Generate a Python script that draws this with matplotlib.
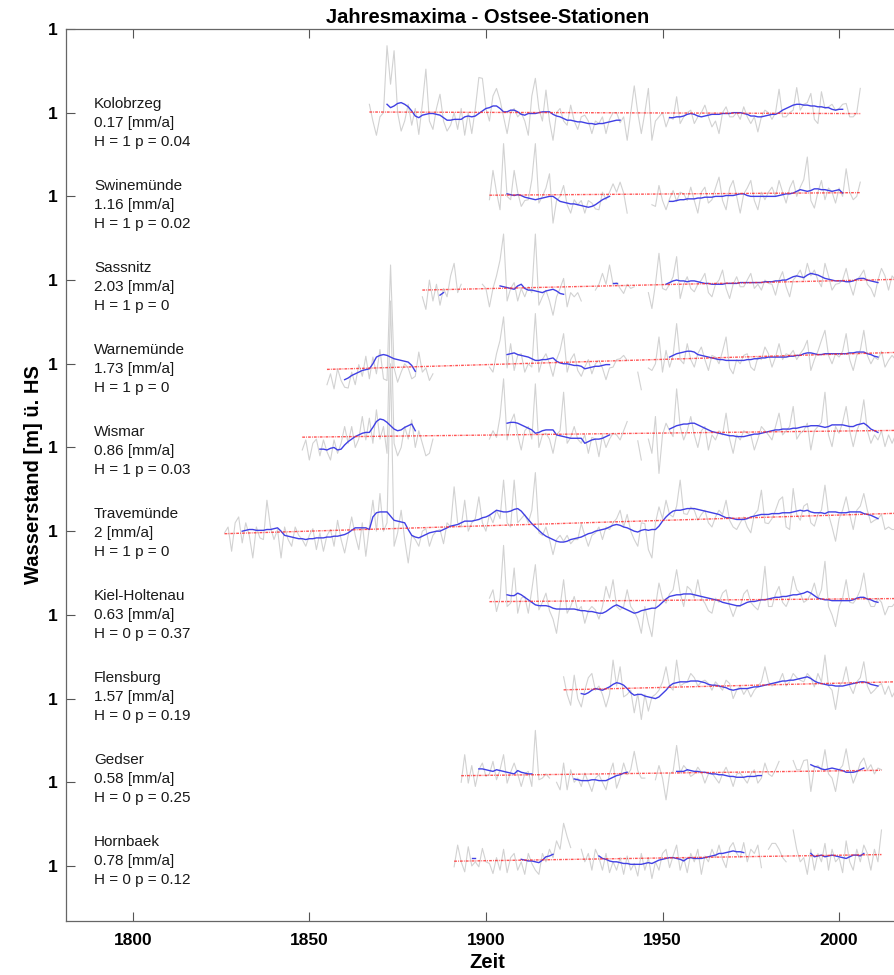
import numpy as np
import matplotlib.pyplot as plt

plt.rcParams['font.family'] = ['Liberation Sans', 'DejaVu Sans']

nan = np.nan

# Jahresmaxima je Station in cm relativ zur Stationslinie (ein Wert pro Jahr ab *_start)
# *_smooth: geglaettete Kurve als Abschnitte (Startjahr, Werte)

kolobrzeg_start = 1867
kolobrzeg = [10, -10, -27, -5, 0, 80, 34, 74, 0, -22,
             -10, 10, -15, 5, -26, 10, 52, -10, -20, 5,
             22, -10, -22, -15, 0, -20, 5, -27, 0, -25,
             5, 42, 41, 5, -10, 20, 29, 15, -5, -25,
             0, 5, -5, 0, -10, -27, 20, 41, 5, -10,
             27, -10, -33, 0, 5, -10, -15, 9, -10, -20,
             -5, -3, -10, -25, -10, -13, -5, -25, -8, 0,
             0, -12, -5, -33, 0, 32, 0, -25, 0, 29,
             -33, -10, -5, 0, -17, -5, -8, 19, -13, -5,
             0, 3, -13, -5, 0, 9, -5, -17, -10, -25,
             0, 7, -5, -5, 0, -8, 7, -5, -13, -5,
             -23, -5, 3, 0, -8, 0, 28, -5, -5, 0,
             3, 30, 3, 10, 12, 23, -8, -13, 25, 5,
             7, 10, 3, 5, 10, 11, -5, -5, 0, 29]
kolobrzeg_smooth = [
    (1872, [10, 6, 8, 11, 12, 10, 7, 2, -4, -6,
            -3, -2, -1, -1, -2, -3, -6, -9, -9, -8,
            -8, -8, -5, -4, -5, -4, -1, 2, 5, 6,
            8, 8, 5, 1, 1, 3, 3, 1, -2, -3,
            -1, -1, -1, 0, 1, 1, 1, -2, -4, -5,
            -7, -9, -9, -10, -11, -11, -12, -13, -13, -14,
            -13, -13, -12, -11, -10, -9, -9]),
    (1952, [-6, -6, -5, -5, -4, -2, -1, -2, -4, -5,
            -4, -3, -2, -2, -2, -1, -1, -1, 0, 0,
            0, -1, -2, -4, -4, -5, -5, -4, -3, -2,
            -2, 0, 3, 5, 7, 9, 10, 10, 9, 9,
            8, 8, 7, 7, 6, 6, 4, 3, 4, 4]),
]

swinemuende_start = 1901
swinemuende = [-4, 31, 5, -16, 63, 0, -4, 31, 5, -12,
               -5, -4, 20, 63, -8, 0, 10, 27, -32, -5,
               0, 13, -10, -20, -4, -10, -5, -20, -5, -8,
               -15, -16, 5, -4, 5, 15, 5, 17, 4, -20,
               nan, nan, nan, nan, nan, nan, -10, -12, 13, -5,
               -16, -3, 7, -6, 5, 3, -5, 11, -5, -20,
               5, 11, -8, -4, 10, 23, -5, -16, 10, 19,
               0, -20, 3, 10, 19, -5, -16, 5, -4, 5,
               11, 0, 19, 5, -8, 10, 19, 0, 11, 20,
               47, -5, -14, 5, 19, -4, 10, 5, -8, 10,
               0, 33, 5, -4, 0, 17]
swinemuende_smooth = [
    (1906, [3, 2, 1, 2, 1, -1, -2, -3, -4, -3,
            -2, -1, 0, 0, -3, -6, -7, -8, -9, -9,
            -10, -11, -12, -13, -12, -10, -7, -4, -2, 0]),
    (1952, [-6, -6, -5, -4, -4, -3, -3, -3, -2, -2,
            -1, -1, -1, 0, 0, 0, 1, 1, 1, 2,
            3, 3, 1, 0, 0, 0, 0, 0, 0, 0,
            0, 1, 2, 3, 3, 4, 6, 8, 7, 6,
            7, 9, 9, 8, 8, 7, 6, 7, 8, 4]),
]

sassnitz_start = 1882
sassnitz = [-20, -35, 0, -25, -5, -30, -10, -20, 5, 20,
            -15, -5, nan, nan, nan, nan, nan, -5, -10, -32,
            -10, 5, 24, 55, -25, -10, -3, -25, -10, -20,
            -8, -15, 55, -30, -20, -12, -25, -42, -20, -10,
            2, -32, -15, -20, -15, -25, nan, nan, nan, -12,
            -5, 8, -5, 18, -5, -3, -10, -16, -5, -10,
            -8, nan, nan, nan, -15, -34, -5, 32, -10, -12,
            -5, 4, 28, -22, -5, 4, -10, -14, -5, 0,
            8, -15, -20, -5, 0, 12, -10, -22, -5, 4,
            -8, -8, 0, 8, -10, -5, -12, 0, -4, -5,
            -18, 0, 10, -8, -20, 0, 5, 12, 0, 20,
            5, 12, 0, -8, 20, 5, -12, -5, -4, 0,
            14, -5, -18, 0, 5, 12, -5, -10, -20, 0,
            14, 5, -12, 5, 0]
sassnitz_smooth = [
    (1887, [-18, -15]),
    (1904, [-7, -8, -9, -10, -11, -7, -5, -10, -12, -12,
            -13, -14, -15, -13, -12, -11, -13, -16, -17]),
    (1936, [-3, -3]),
    (1951, [-5, -3, -1, 0, -1, -1, -2, -1, -1, -2,
            -3, -4, -4, -5, -5, -5, -5, -4, -4, -4,
            -4, -3, -3, -3, -3, -3, -3, -3, -2, -2,
            -2, -1, -1, 0, 0, 2, 4, 5, 4, 3,
            6, 8, 7, 6, 4, 2, 1, 0, -1, -1,
            -1, -2, -2, -1, 1, 2, 2, 0, -1, -2, -3]),
]

warnemuende_start = 1855
warnemuende = [-25, -12, -30, -6, -20, -28, -29, -10, -25, -1,
               -15, 9, -18, 8, -12, 17, -18, -20, 118, -5,
               -22, -10, 0, -5, -18, -15, 14, -10, -5, -20,
               -12, nan, nan, nan, nan, nan, nan, nan, nan, nan,
               nan, nan, nan, nan, nan, nan, -4, -10, 12, 28,
               56, -5, 24, -8, 10, 12, -10, 0, -4, 60,
               -10, 5, 12, 0, -15, 5, 16, 36, -10, 5,
               12, -8, -15, -4, 5, -12, 0, 4, -5, -19,
               -5, -4, 5, 6, 10, 4, nan, nan, -10, -31,
               nan, -5, -8, 0, 32, -10, 16, -4, 10, 48,
               5, 0, 24, 5, -4, 12, 20, 5, -8, 10,
               8, 0, 15, 32, -5, -12, 5, 0, 10, 12,
               -4, -8, 8, 5, 20, 12, -4, 8, 24, 5,
               12, 10, 16, 5, 12, 18, 28, -8, 5, 15,
               28, 40, 10, 0, 12, 8, 15, 36, 5, -8,
               10, 16, 40, 10, 0, 8, 5, 15, -4, 4,
               10, 5]
warnemuende_smooth = [
    (1860, [-19, -17, -14, -12, -10, -8, -7, -6, 0, 8,
            10, 11, 10, 8, 6, 5, 4, 3, 2, -2, -9]),
    (1906, [11, 12, 13, 11, 10, 9, 8, 6, 4, 4,
            5, 5, 6, 7, 3, 1, 0, 0, -1, -2,
            -2, -3, -6, -5, -4, -3, -3, -2, -1, -1]),
    (1952, [8, 10, 12, 13, 14, 15, 15, 14, 11, 10,
            9, 8, 7, 6, 5, 5, 4, 4, 4, 4,
            4, 4, 5, 5, 6, 6, 7, 7, 8, 8,
            8, 8, 8, 8, 9, 9, 10, 10, 12, 13,
            13, 12, 11, 11, 12, 12, 12, 12, 12, 12,
            12, 13, 13, 14, 14, 14, 12, 11, 9, 8]),
]

wismar_start = 1848
wismar = [-3, 9, -15, 5, 10, -10, 9, -5, -15, 9,
          -7, 5, 25, 5, 25, 0, 10, 37, 9, 35,
          5, 45, 10, 25, -7, 175, 5, -10, 0, 25,
          10, 33, 0, 20, 5, -10, -7, 10, nan, nan,
          nan, nan, nan, nan, nan, nan, nan, nan, nan, nan,
          nan, nan, nan, 10, 20, 12, 37, 82, 9, 30,
          40, 15, -3, 20, 25, 10, 76, 0, 15, 17,
          10, -7, 15, 20, 66, 5, 12, 25, 10, 5,
          15, -7, 12, 10, -11, 15, 0, 10, 17, 15,
          9, 20, 31, nan, nan, 8, -15, nan, 10, -7,
          37, -31, 15, 29, 20, 13, 70, 25, 9, 20,
          37, 15, 0, 20, 25, -3, 15, 9, 20, 15,
          41, 10, -7, 15, 9, 20, 17, 15, -3, 10,
          25, 20, 15, 9, 25, 41, 15, 20, 25, 49,
          10, 17, 20, 29, -3, 20, 25, 30, 66, 15,
          1, 25, 17, 30, 49, 20, 1, 20, 30, 57,
          20, 5, 15, 9, 20, 1, 15, 5, 15]
wismar_smooth = [
    (1853, [-2, -2, -3, -1, 0, -3, -2, 3, 7, 10,
            13, 15, 17, 18, 18, 24, 31, 34, 33, 30,
            26, 22, 20, 21, 24, 26, 28, 20]),
    (1906, [29, 30, 30, 29, 27, 25, 23, 21, 17, 18,
            20, 21, 21, 21, 15, 14, 13, 12, 11, 11,
            11, 11, 5, 7, 9, 10, 10, 11, 13, 15]),
    (1952, [22, 24, 26, 27, 28, 28, 29, 29, 27, 25,
            23, 21, 19, 18, 17, 16, 15, 14, 14, 13,
            13, 13, 14, 15, 16, 16, 17, 18, 19, 20,
            21, 21, 22, 22, 22, 23, 23, 24, 25, 25,
            26, 26, 26, 25, 24, 25, 27, 27, 27, 27,
            26, 25, 25, 27, 28, 29, 26, 22, 20, 18]),
]

travemuende_start = 1826
travemuende = [-2, 5, -24, 10, 17, -14, 10, -5, -32, 5,
               -8, -10, 37, 5, -10, 2, -32, 5, -10, -18,
               5, -5, -10, -18, -5, 3, -22, -2, -24, -5,
               2, -18, 13, -10, -26, -5, 17, -5, -22, 10,
               -30, 5, 37, 0, 45, 0, 10, 200, -18, -2,
               25, -10, -38, -5, -10, -18, 0, 3, -18, -5,
               0, 2, -15, 10, 5, 53, 10, 5, 37, 0,
               10, 15, 41, 10, 0, 20, 10, 25, 15, 61,
               10, 5, 61, 10, 15, 20, 10, 25, 70, -2,
               -5, 5, -10, -28, -10, -5, -12, -5, -15, -10,
               -10, 9, -5, -18, -5, -2, 5, -10, 5, 2,
               10, 15, 25, 5, 20, 0, -10, -18, 10, 9,
               -22, -32, 10, 29, 15, 37, 20, 17, 30, 61,
               21, 20, 29, 25, 13, 20, 25, 10, 5, 17,
               25, 20, 37, 13, 5, 2, 10, 17, 5, -2,
               20, 25, 49, 10, 9, 15, 25, 37, 41, 5,
               2, 51, 20, 13, 30, 33, 10, 6, 20, 25,
               55, 20, 5, -12, 15, 25, 41, 20, 2, 25,
               30, 45, 25, 10, 13, 15, 20, 2, 5, 2,
               2]
travemuende_smooth = [
    (1831, [0, 1, 2, 2, 1, 1, 1, 2, 2, 3,
            4, 0, -5, -6, -7, -8, -9, -9, -10, -9,
            -9, -8, -8, -8, -7, -7, -6, -6, -5, -4,
            -2, 1, 4, 4, 4, 4, 2, 17, 22, 23,
            23, 23, 18, 13, 12, 11, 10, 2, -5, -7,
            -8, -6, -4, -2, -1, 0, 0, 2, 4, 6,
            7, 8, 10, 12, 12, 12, 13, 14, 16, 17,
            19, 22, 25, 24, 23, 23, 24, 26, 27, 24,
            19, 14, 9, 5, 1, -3, -6, -8, -10, -12,
            -13, -13, -12, -10, -9, -8, -7, -5, -3, -2,
            0, 1, 2, 3, 5, 7, 8, 7, 5, 4,
            2, 0, -1, 1, 2, 1, 2, 2, 6, 12,
            17, 21, 24, 25, 25, 26, 27, 27, 27, 26,
            25, 24, 23, 22, 21, 20, 18, 16, 16, 15,
            14, 14, 14, 15, 17, 18, 19, 20, 20, 20,
            21, 21, 21, 22, 22, 22, 23, 24, 25, 24,
            25, 23, 22, 22, 22, 21, 23, 23, 23, 22,
            22, 22, 23, 23, 23, 23, 21, 20, 19, 17,
            15]),
]

kiel_start = 1901
kiel = [20, 30, 4, 20, 83, 10, 14, 56, 2, 20,
        22, 2, 30, 60, 6, 15, 26, 5, -5, -22,
        10, 42, 2, 10, 22, 5, 10, -10, 5, 10,
        6, -5, 10, 34, 20, 42, 10, 6, 10, 30,
        10, 4, -5, -22, 10, -10, -26, 10, 38, 20,
        14, 25, 30, 54, 26, 10, 34, 30, 20, 42,
        20, 14, 5, 2, 20, 15, 26, 30, 10, -2,
        10, 10, 25, 30, 15, 10, 6, 20, 58, 10,
        10, 25, 34, 15, 10, 20, 46, 30, 26, 15,
        18, 25, 38, 20, 30, 64, 10, 0, -14, 10,
        20, 42, 15, 14, 20, 30, 50, 20, 10, 10,
        20, 15, 0, 10, 10, 15]
kiel_smooth = [
    (1906, [24, 23, 23, 26, 24, 21, 18, 15, 12, 11,
            11, 11, 10, 8, 7, 7, 7, 7, 7, 7,
            6, 5, 5, 4, 4, 3, 2, 2, 4, 7,
            10, 12, 10, 8, 6, 4, 2, 3, 5, 6,
            7, 8, 8, 11, 15, 19, 22, 23, 24, 24,
            25, 25, 25, 24, 23, 22, 21, 20, 19, 18,
            17, 15, 14, 13, 12, 11, 11, 13, 15, 16,
            16, 17, 18, 18, 19, 20, 21, 21, 22, 22,
            23, 24, 24, 25, 26, 28, 26, 23, 20, 19,
            18, 18, 17, 17, 17, 17, 17, 17, 18, 20,
            21, 21, 19, 18, 16, 15]),
]

flensburg_start = 1922
flensburg = [26, 5, -8, 28, 0, -10, 10, 25, 30, 10,
             15, 5, -10, 5, 46, 15, 38, 2, 5, 10,
             -17, 6, -25, 5, -15, 2, 5, 10, 20, 38,
             15, 10, 46, 15, 18, 20, 30, 25, 15, 20,
             22, 18, 10, 20, 15, 10, 22, 18, 0, 10,
             15, 5, 12, 2, 10, 15, 20, 38, 20, 15,
             18, 20, 30, 15, 20, 30, 25, 22, 20, 30,
             25, 14, 30, 20, 52, 15, 10, -13, 15, 20,
             38, 15, 6, 20, 25, 44, 15, 6, 10, 15,
             18, 5, 15, 2, 10]
flensburg_smooth = [
    (1927, [6, 5, 7, 10, 12, 11, 10, 12, 14, 17,
            19, 18, 16, 12, 7, 4, 5, 5, 3, 2,
            1, 0, 2, 6, 10, 15, 18, 19, 20, 20,
            20, 21, 21, 21, 20, 19, 17, 16, 16, 15,
            14, 13, 11, 10, 11, 12, 12, 12, 13, 14,
            14, 15, 16, 17, 18, 19, 20, 21, 21, 22,
            22, 23, 24, 25, 26, 24, 21, 19, 18, 17,
            16, 16, 15, 15, 15, 16, 17, 18, 19, 20,
            20, 19, 17, 16, 15]),
]

gedser_start = 1893
gedser = [0, 33, -1, 20, -5, 15, 23, 7, 10, 25,
          3, 15, 33, -1, 12, 23, 10, -5, 10, 13,
          -5, 62, 3, 5, 10, 5, nan, 0, -9, 23,
          -9, 15, 0, 5, -5, 11, 0, -11, 5, 9,
          0, -9, 10, 23, -7, 5, 23, 9, 15, 37,
          14, 5, 5, nan, nan, 3, 20, 5, -21, 10,
          13, 44, 11, 20, 15, 7, 10, 18, 12, -1,
          10, 11, 5, -1, 10, 18, 8, -5, 10, 11,
          5, -1, 10, 15, -1, 5, 23, 10, 7, 15,
          25, nan, nan, nan, 26, 15, 15, 26, 27, -11,
          18, 20, 15, 39, 10, 5, -11, 15, 20, 40,
          15, -1, 10, 23, 29, 15, 21, 10, 17, 15]
gedser_smooth = [
    (1898, [16, 16, 15, 14, 13, 15, 14, 13, 12, 11, 10, 14, 12, 11, 10, 10]),
    (1925, [4, 3, 2, 2, 2, 3, 3, 2, 2, 2, 4, 6, 8, 9, 11, 12]),
    (1954, [13, 13, 13, 15, 14, 13, 13, 12, 12, 11, 10, 10, 9,
            9, 8, 7, 7, 6, 6, 6, 7, 7, 7, 8, 8]),
    (1992, [21, 19, 18, 16, 15, 16, 17, 16, 15, 14, 12, 12, 12, 13, 15, 17]),
]

hornbaek_start = 1891
hornbaek = [-1, 25, 5, -7, 23, 0, 5, -1, 21, 5,
            3, -9, 10, -5, 20, -8, 10, 15, -5, 5,
            -10, 15, 3, -5, -10, 15, 5, 20, 10, 30,
            20, 51, 35, 22, nan, nan, 20, 5, 15, -5,
            20, 10, -5, 15, -8, 5, -5, 10, -10, 12,
            -5, 3, -12, 15, -5, 10, -15, 5, -5, 15,
            20, -2, 12, 25, -5, 10, -8, 15, 5, 20,
            -10, 12, 5, 20, 10, 25, 8, -2, 22, 28,
            15, 10, 28, 5, 20, 15, 25, -2, nan, 20,
            27, 27, 20, 10, 5, nan, 43, 20, 5, 10,
            -10, 20, -5, 15, 5, 27, -5, 20, 5, 10,
            -8, 30, 5, -5, 20, 5, 25, 15, -5, 20,
            5, 43]
hornbaek_smooth = [
    (1896, [10, 10]),
    (1910, [8, 7, 6, 6, 5, 4, 7, 11, 12, 14]),
    (1932, [12, 9, 8, 6, 5, 5, 4, 3, 3, 2,
            2, 2, 2, 3, 4, 3, 5, 7, 8, 9,
            10, 10, 9, 8, 6, 9, 10, 9, 9, 9,
            10, 11, 12, 13, 15, 15, 16, 17, 18, 17,
            17, 16]),
    (1992, [15, 11, 12, 13, 11, 12, 13, 12, 11, 10, 9, 11, 13, 13, 12, 15]),
]

stations = ["Kolobrzeg", "Swinemünde", "Sassnitz", "Warnemünde", "Wismar",
            "Travemünde", "Kiel-Holtenau", "Flensburg", "Gedser", "Hornbaek"]
trends = ["0.17", "1.16", "2.03", "1.73", "0.86", "2", "0.63", "1.57", "0.58", "0.78"]
h_test = [1, 1, 1, 1, 1, 1, 0, 0, 0, 0]
p_test = ["0.04", "0.02", "0", "0", "0.03", "0", "0.37", "0.19", "0.25", "0.12"]

series = [(kolobrzeg_start, kolobrzeg, kolobrzeg_smooth),
          (swinemuende_start, swinemuende, swinemuende_smooth),
          (sassnitz_start, sassnitz, sassnitz_smooth),
          (warnemuende_start, warnemuende, warnemuende_smooth),
          (wismar_start, wismar, wismar_smooth),
          (travemuende_start, travemuende, travemuende_smooth),
          (kiel_start, kiel, kiel_smooth),
          (flensburg_start, flensburg, flensburg_smooth),
          (gedser_start, gedser, gedser_smooth),
          (hornbaek_start, hornbaek, hornbaek_smooth)]

fig = plt.figure(figsize=(8.94, 9.75), dpi=100)
ax = fig.add_axes([0.0734, 0.0554, 0.9442, 0.9149])

n = len(stations)
for i, name in enumerate(stations):
    off = n - i
    start, vals, smooth = series[i]
    yrs = start + np.arange(len(vals))
    v = np.array(vals, dtype=float) / 100.0
    ax.plot(yrs, off + v, color='#d2d2d2', lw=0.8, zorder=1)
    for s0, seg in smooth:
        sy = s0 + np.arange(len(seg))
        ax.plot(sy, off + np.array(seg) / 100.0, color='#4040e4', lw=1.0, zorder=2)
    # linearer Trend
    ok = ~np.isnan(v)
    c = np.polyfit(yrs[ok], v[ok], 1)
    ends = np.array([yrs[0], yrs[-1]])
    ax.plot(ends, off + np.polyval(c, ends), color='#ff2a2a', lw=1.0,
            ls=(0, (2, 0.8, 0.6, 0.8)), alpha=0.8, zorder=3)
    ax.text(0.0336, 0.074 + 0.9803 * off,
            "{}\n{} [mm/a]\nH = {} p = {}".format(name, trends[i], h_test[i], p_test[i]),
            transform=ax.get_yaxis_transform(), ha='left', va='center',
            fontsize=11, linespacing=1.45, color='#1a1a1a')

ax.set_xlim(1781, 2020)
ax.set_ylim(0.343, 11)
ax.set_xticks([1800, 1850, 1900, 1950, 2000],
              ['1800', '1850', '1900', '1950', '2000'], fontweight='bold')
ax.set_yticks(range(1, 12), ['1'] * 11, fontweight='bold')
ax.tick_params(axis='both', direction='in', length=6.5, width=0.8,
               color='#555555', labelsize=12.5, top=True, right=True)
ax.tick_params(axis='x', pad=9)
ax.tick_params(axis='y', pad=6)
for sp in ax.spines.values():
    sp.set_color('#666666')
    sp.set_linewidth(0.9)

ax.set_title('Jahresmaxima - Ostsee-Stationen', fontsize=14.5, fontweight='bold', pad=4)
ax.set_xlabel('Zeit', fontsize=14.5, fontweight='bold', labelpad=3)
ax.set_ylabel('Wasserstand [m] ü. HS', fontsize=14.5, fontweight='bold', labelpad=3)

fig.savefig('out.png', dpi=100)
